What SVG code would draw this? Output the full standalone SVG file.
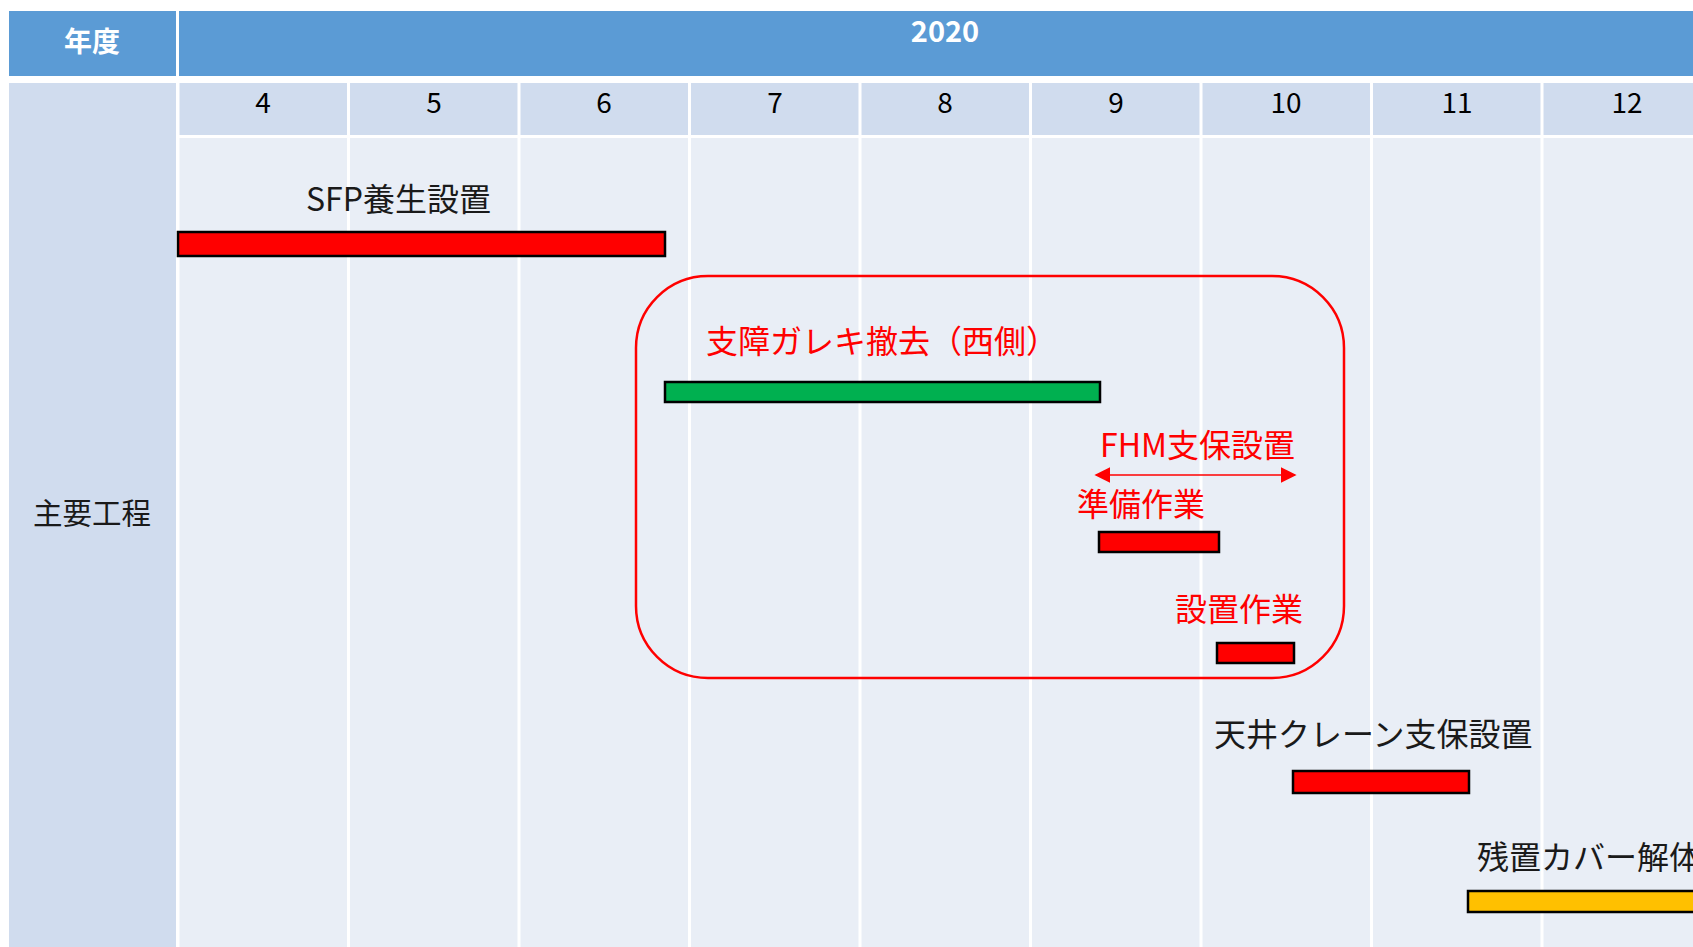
<svg xmlns="http://www.w3.org/2000/svg" width="1693" height="947" viewBox="0 0 1693 947">
<style>
.hdr{fill:#5B9BD5}
.cell{fill:#D0DCEE}
.body{fill:#E9EEF6}
.grid{stroke:#FFFFFF;stroke-width:3}
.wt{font-family:"Noto Sans CJK JP","Liberation Sans",sans-serif;font-weight:bold;fill:#FFFFFF;text-anchor:middle}
.mo{font-family:"Noto Sans CJK JP","DejaVu Sans",sans-serif;font-size:28px;fill:#000000;text-anchor:middle}
.lbl{font-family:"Noto Sans CJK JP","Liberation Sans",sans-serif;font-size:32px;fill:#1A1A1A}
.rt{fill:#FF0000}
.red{fill:#FF0000}
.bar{stroke:#000000;stroke-width:2.5}
</style>
<defs>
<marker id="ah" viewBox="0 0 10 10" refX="9" refY="5" markerWidth="16" markerHeight="16" markerUnits="userSpaceOnUse" orient="auto-start-reverse">
<path d="M0,0 L10,5 L0,10 z" fill="#FF0000"/>
</marker>
</defs>
<rect width="1693" height="947" fill="#FFFFFF"/>
<g id="table">
<rect class="hdr" x="9" y="11" width="167" height="65"/>
<rect class="hdr" x="179" y="11" width="1514" height="65"/>
<text class="wt" x="92" y="52" font-size="28">年度</text>
<text class="wt" x="945" y="42" font-size="29">2020</text>
<rect class="cell" x="9" y="83" width="167" height="864"/>
<rect class="cell" x="179" y="83" width="1514" height="52"/>
<rect class="body" x="179" y="138" width="1514" height="809"/>
<g class="grid">
<line x1="178" y1="83" x2="178" y2="947"/>
<line x1="348.5" y1="83" x2="348.5" y2="947"/>
<line x1="519" y1="83" x2="519" y2="947"/>
<line x1="689.5" y1="83" x2="689.5" y2="947"/>
<line x1="860" y1="83" x2="860" y2="947"/>
<line x1="1030.5" y1="83" x2="1030.5" y2="947"/>
<line x1="1201" y1="83" x2="1201" y2="947"/>
<line x1="1371.5" y1="83" x2="1371.5" y2="947"/>
<line x1="1542" y1="83" x2="1542" y2="947"/>
<line x1="178" y1="136.5" x2="1693" y2="136.5"/>
</g>
<text class="mo" x="263" y="113">4</text>
<text class="mo" x="434" y="113">5</text>
<text class="mo" x="604" y="113">6</text>
<text class="mo" x="775" y="113">7</text>
<text class="mo" x="945" y="113">8</text>
<text class="mo" x="1116" y="113">9</text>
<text class="mo" x="1286" y="113">10</text>
<text class="mo" x="1457" y="113">11</text>
<text class="mo" x="1627" y="113">12</text>
<text class="lbl" x="92" y="524" text-anchor="middle" style="font-size:29.5px">主要工程</text>
</g>
<g id="sfp">
<text class="lbl" x="306" y="211">SFP養生設置</text>
<rect class="red bar" x="178" y="232" width="487" height="24"/>
</g>
<g id="group-box">
<rect x="636" y="276" width="708" height="402" rx="72" ry="72" fill="none" stroke="#FF0000" stroke-width="2.5"/>
</g>
<g id="gareki">
<text class="lbl rt" x="706" y="353">支障ガレキ撤去（西側）</text>
<rect class="bar" x="665" y="382" width="435" height="20" fill="#00B050"/>
</g>
<g id="fhm">
<text class="lbl rt" x="1100" y="457">FHM支保設置</text>
</g>
<g id="junbi">
<text class="lbl rt" x="1077" y="516">準備作業</text>
<rect class="red bar" x="1099" y="532" width="120" height="20"/>
</g>
<g id="setchi">
<text class="lbl rt" x="1175" y="621">設置作業</text>
<rect class="red bar" x="1217" y="643" width="77" height="20"/>
</g>
<g id="crane">
<text class="lbl" x="1214" y="746">天井クレーン支保設置</text>
<rect class="red bar" x="1293" y="771" width="176" height="22"/>
</g>
<g id="cover">
<text class="lbl" x="1477" y="869">残置カバー解体</text>
<rect class="bar" x="1468" y="891" width="240" height="21" fill="#FFC000"/>
</g>
<g id="connectors">
<line x1="1096" y1="475" x2="1295" y2="475" stroke="#FF0000" stroke-width="1.5" marker-start="url(#ah)" marker-end="url(#ah)"/>
</g>
</svg>
